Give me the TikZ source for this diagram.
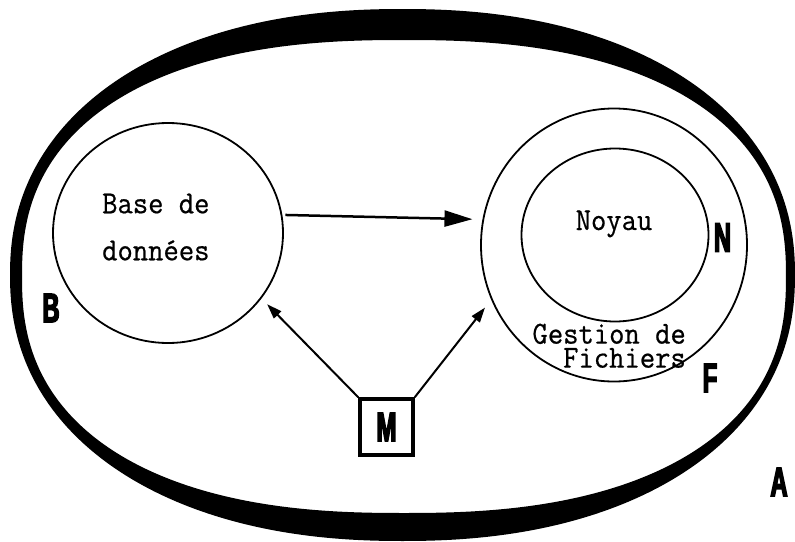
\documentclass[tikz,border=0pt]{standalone}
\usepackage{fontspec}
\usetikzlibrary{shapes.geometric,arrows.meta}
\newfontfamily\condbold{Liberation Sans Bold}[FakeStretch=0.58,FakeBold=3.5]
\newfontfamily\monotxt{Latin Modern Mono}[FakeStretch=0.93,FakeBold=0.6]
\tikzset{
  ring/.style={draw, ellipse, line width=1.8pt, inner sep=0pt},
  lbl/.style={font=\condbold\fontsize{41}{41}\selectfont, inner sep=0pt},
  txt/.style={font=\monotxt\fontsize{32}{47}\selectfont, inner sep=0pt},
  bigarrow/.style={line width=2.5pt, -{Triangle[length=28pt,width=16pt]}},
  smallarrow/.style={line width=2pt, -{Triangle[length=15pt,width=10pt]}},
}
\begin{document}
\begin{tikzpicture}[x=1pt,y=-1pt]
\useasboundingbox (0,0) rectangle (795,541);
\fill[white] (0,0) rectangle (795,541);
% outer thick ring A (superellipses)
\fill[black, even odd rule]
  plot[domain=1:361, samples=181, smooth]
    ({402.5+392.5*cos(\x)*pow(abs(cos(\x)),-0.0909)}, {275+266*sin(\x)*pow(abs(sin(\x)),-0.0909)}) -- cycle
  plot[domain=1:361, samples=181, smooth]
    ({404+382*cos(\x)*pow(abs(cos(\x)),-0.1667)}, {276.5+236.5*sin(\x)*pow(abs(sin(\x)),-0.1667)}) -- cycle;
% circles
\node[ring, minimum width=230pt, minimum height=220pt] (B) at (168,233) {};
\node[ring, minimum width=266pt, minimum height=273pt] (F) at (614,245) {};
\node[ring, minimum width=187pt, minimum height=173pt] (N) at (615,235) {};
% texts
\node[txt, anchor=north west, align=left] (bdtxt) at (102,193.5) {Base de\\donn\'ees};
\node[txt, anchor=base] (noyau) at (614,230) {Noyau};
\node[txt, anchor=north east, align=right, font=\monotxt\fontsize{32}{24}\selectfont] (gf) at (686,323.5) {Gestion de\\Fichiers};
% letters
\node[lbl] (lB) at (51,308) {B};
\node[lbl] (lN) at (722.5,237.5) {N};
\node[lbl] (lF) at (710,378) {F};
\node[lbl] (lA) at (779,482) {A};
\node[draw, line width=3.5pt, minimum width=53pt, minimum height=56pt, inner sep=0pt,
      font=\condbold\fontsize{41}{41}\selectfont] (M) at (386.5,427) {M};
% arrows
\draw[bigarrow, shorten <=3pt, shorten >=10pt] (B.9) -- (F.169);
\draw[smallarrow, shorten >=8pt] (M.north west) -- (B.-35);
\draw[smallarrow, shorten >=10pt] (M.north east) -- (F.204);
\end{tikzpicture}
\end{document}
